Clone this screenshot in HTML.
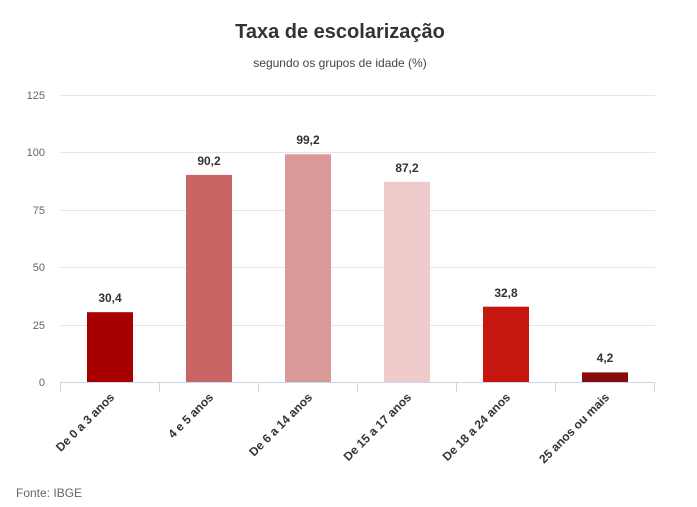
<!DOCTYPE html>
<html><head><meta charset="utf-8"><style>
html,body{margin:0;padding:0;background:#fff;}
svg{display:block;font-family:"Liberation Sans",sans-serif;}
</style></head><body>
<svg width="697" height="507" viewBox="0 0 697 507" xmlns="http://www.w3.org/2000/svg">
<rect width="697" height="507" fill="#fff"/>
<text x="340" y="38" text-anchor="middle" font-size="20" font-weight="bold" fill="#333">Taxa de escolarização</text>
<text x="340" y="67" text-anchor="middle" font-size="12" fill="#444">segundo os grupos de idade (%)</text>
<g stroke="#e6e6e6" stroke-width="1">
<line x1="60" x2="655" y1="95.5" y2="95.5"/>
<line x1="60" x2="655" y1="152.5" y2="152.5"/>
<line x1="60" x2="655" y1="210.5" y2="210.5"/>
<line x1="60" x2="655" y1="267.5" y2="267.5"/>
<line x1="60" x2="655" y1="325.5" y2="325.5"/>
</g>
<g font-size="11" fill="#666" text-anchor="end">
<text x="45" y="99">125</text>
<text x="45" y="156">100</text>
<text x="45" y="214">75</text>
<text x="45" y="271">50</text>
<text x="45" y="329">25</text>
<text x="45" y="386">0</text>
</g>
<g>
<rect x="87" y="312.2" width="46" height="69.8" fill="#a80000"/>
<rect x="186" y="174.9" width="46" height="207.1" fill="#c96565"/>
<rect x="285" y="154.2" width="46" height="227.8" fill="#db9a9a"/>
<rect x="384" y="181.8" width="46" height="200.2" fill="#efcbcb"/>
<rect x="483" y="306.7" width="46" height="75.3" fill="#c5170f"/>
<rect x="582" y="372.4" width="46" height="9.6" fill="#870b0b"/>
</g>
<g font-size="12" font-weight="bold" fill="#333" text-anchor="middle">
<text x="110" y="302">30,4</text>
<text x="209" y="165">90,2</text>
<text x="308" y="144">99,2</text>
<text x="407" y="172">87,2</text>
<text x="506" y="297">32,8</text>
<text x="605" y="362">4,2</text>
</g>
<g stroke="#ccd6eb" stroke-width="1">
<line x1="60" x2="655" y1="382.5" y2="382.5"/>
<line x1="60.5" x2="60.5" y1="382" y2="392"/>
<line x1="159.5" x2="159.5" y1="382" y2="392"/>
<line x1="258.5" x2="258.5" y1="382" y2="392"/>
<line x1="357.5" x2="357.5" y1="382" y2="392"/>
<line x1="456.5" x2="456.5" y1="382" y2="392"/>
<line x1="555.5" x2="555.5" y1="382" y2="392"/>
<line x1="654.5" x2="654.5" y1="382" y2="392"/>
</g>
<g font-size="12" font-weight="bold" fill="#333" text-anchor="end">
<text transform="translate(115,398) rotate(-45)">De 0 a 3 anos</text>
<text transform="translate(214,398) rotate(-45)">4 e 5 anos</text>
<text transform="translate(313,398) rotate(-45)">De 6 a 14 anos</text>
<text transform="translate(412,398) rotate(-45)">De 15 a 17 anos</text>
<text transform="translate(511,398) rotate(-45)">De 18 a 24 anos</text>
<text transform="translate(610,398) rotate(-45)">25 anos ou mais</text>
</g>
<text x="16" y="497" font-size="12" fill="#666">Fonte: IBGE</text>
</svg>
</body></html>
